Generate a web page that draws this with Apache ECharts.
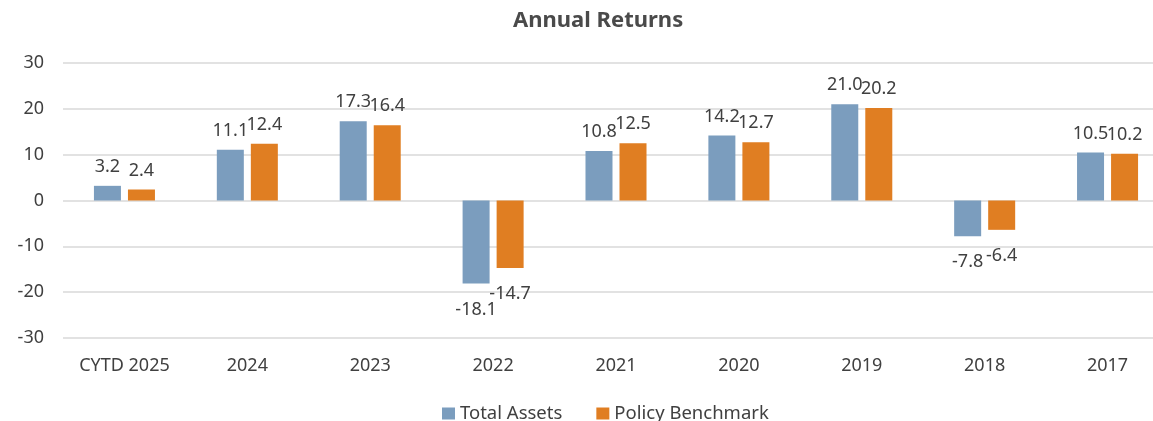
<!DOCTYPE html>
<html>
<head>
<meta charset="utf-8">
<script src="https://cdn.jsdelivr.net/npm/echarts@6/dist/echarts.min.js"></script>
<style>html,body{margin:0;padding:0;background:#fff;}#c{width:1153px;height:421px;}</style>
</head>
<body>
<div id="c"></div>
<script>
const categories = ['CYTD 2025', '2024', '2023', '2022', '2021', '2020', '2019', '2018', '2017'];
const totalAssets = [3.2, 11.1, 17.3, -18.1, 10.8, 14.2, 21.0, -7.8, 10.5];
const policyBenchmark = [2.4, 12.4, 16.4, -14.7, 12.5, 12.7, 20.2, -6.4, 10.2];
const seriesNames = ['Total Assets', 'Policy Benchmark'];
const yTicks = { min: -30, max: 30, interval: 10 };

const FONT = '"Noto Sans", sans-serif';
const TXT = '#404040';

function toItems(arr) {
  return arr.map(v => ({
    value: v,
    label: v < 0 ? { position: 'bottom', distance: 17 } : { position: 'top', distance: 10 }
  }));
}

const chart = echarts.init(document.getElementById('c'), null, { renderer: 'canvas' });
chart.setOption({
  backgroundColor: '#ffffff',
  animation: false,
  title: {
    text: 'Annual Returns',
    left: 508,
    top: 5,
    textStyle: { fontFamily: FONT, fontSize: 22, fontWeight: 'bold', color: '#4a4a4a' }
  },
  legend: {
    data: seriesNames,
    left: 437,
    top: 399,
    itemWidth: 13,
    itemHeight: 12,
    itemGap: 34,
    icon: 'rect',
    textStyle: { fontFamily: FONT, fontSize: 18.5, color: TXT }
  },
  grid: { left: 63, top: 63, width: 1106, bottom: 83, containLabel: false, outerBoundsMode: 'none' },
  xAxis: {
    type: 'category',
    data: categories,
    axisLine: { show: false },
    axisTick: { show: false },
    axisLabel: { fontFamily: FONT, fontSize: 18, color: TXT, margin: 19 }
  },
  yAxis: {
    type: 'value',
    min: yTicks.min,
    max: yTicks.max,
    interval: yTicks.interval,
    axisLine: { show: false },
    axisTick: { show: false },
    axisLabel: { fontFamily: FONT, fontSize: 18, color: TXT, margin: 19 },
    splitLine: { lineStyle: { color: '#d9d9d9', width: 1.5 } }
  },
  series: [
    {
      name: seriesNames[0],
      type: 'bar',
      data: toItems(totalAssets),
      barWidth: 27,
      barGap: '26%',
      itemStyle: { color: '#7b9dbe' },
      label: {
        show: true,
        fontFamily: FONT, fontSize: 18, color: TXT,
        formatter: p => p.value.toFixed(1)
      }
    },
    {
      name: seriesNames[1],
      type: 'bar',
      data: toItems(policyBenchmark),
      barWidth: 27,
      itemStyle: { color: '#e07e22' },
      label: {
        show: true,
        fontFamily: FONT, fontSize: 18, color: TXT,
        formatter: p => p.value.toFixed(1)
      }
    }
  ]
});
</script>
</body>
</html>
